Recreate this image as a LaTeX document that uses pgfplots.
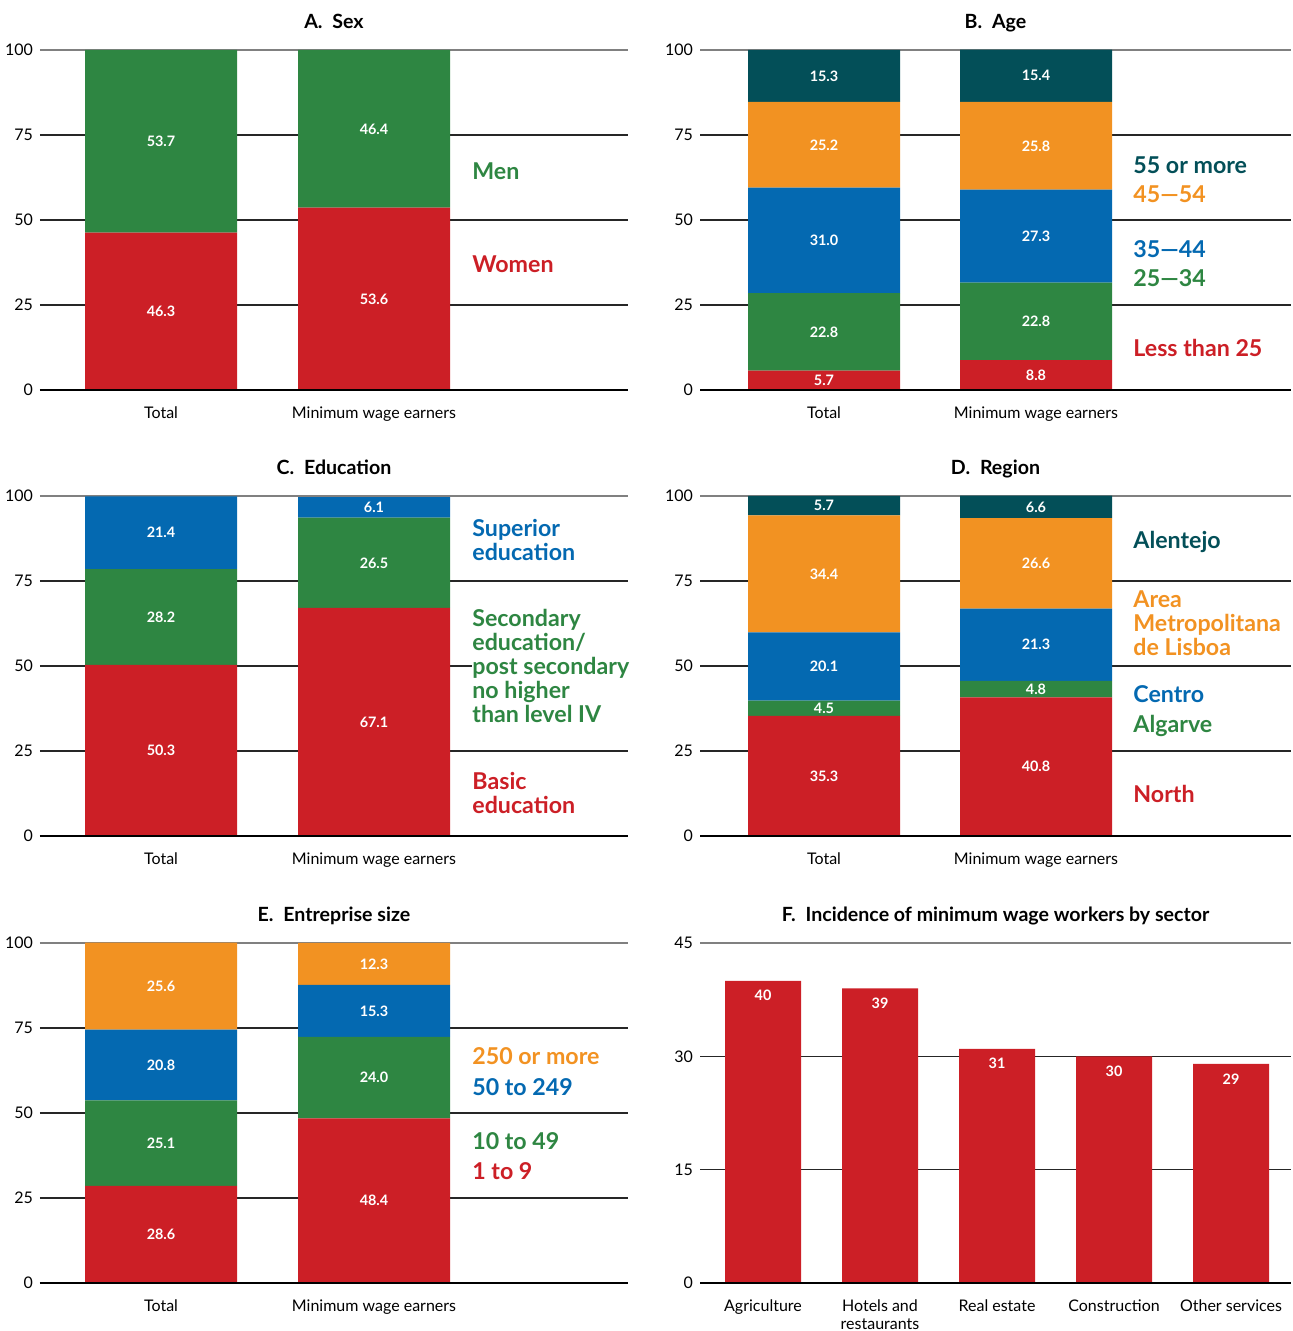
\documentclass[border=0pt]{standalone}
\usepackage{fontspec}
\setmainfont{Lato}
\usepackage{pgfplots}
\pgfplotsset{compat=1.18}
\definecolor{cred}{HTML}{CC1F26}
\definecolor{cgreen}{HTML}{2E8642}
\definecolor{cblue}{HTML}{0469B1}
\definecolor{corange}{HTML}{F29222}
\definecolor{cteal}{HTML}{034F58}
\pgfplotsset{
  base/.style={scale only axis, height=170pt, enlargelimits=false, clip=false,
    axis line style={draw=none}, tick style={draw=none}, major tick length=0pt,
    ymajorgrids, major grid style={line width=0.6pt, black!85},
    ymin=0,
    yticklabel style={font=\fontsize{8}{9.6}\selectfont, xshift=0pt},
    xticklabel style={font=\fontsize{8}{8.8}\selectfont, yshift=-5pt, align=center},
    extra y tick style={grid=major, major grid style={line width=0.9pt, black!50}},
    /pgf/number format/assume math mode=true,
  },
  stackL/.style={base, width=294pt, ybar stacked, bar width=76pt, ymax=100, ytick={0,25,50,75}, extra y ticks={100},
    xtick={0,1}, xticklabels={Total,Minimum wage earners}, xmin=-0.5681, xmax=2.1925},
  stackR/.style={base, width=295.5pt, ybar stacked, bar width=76pt, ymax=100, ytick={0,25,50,75}, extra y ticks={100},
    xtick={0,1}, xticklabels={Total,Minimum wage earners}, xmin=-0.5849, xmax=2.2028},
}
\tikzset{
  vl/.style={font=\fontsize{7.2}{8}\selectfont\bfseries, text=white, inner sep=0pt},
  leg/.style={anchor=north west, inner sep=0pt, font=\fontsize{11.6}{12}\selectfont\bfseries, align=left},
  ttl/.style={anchor=base, inner sep=0pt, font=\fontsize{9.8}{11}\selectfont\bfseries, yshift=10.5pt},
  zl/.style={line width=1.2pt, black},
}
\begin{document}
\begin{tikzpicture}
\path[use as bounding box] (0,0) rectangle (646.5pt,665.5pt);

% ---------- A. Sex ----------
\begin{axis}[stackL, at={(20pt,470.5pt)}, anchor=south west,
  after end axis/.append code={
    \draw[zl] (rel axis cs:0,0) -- (rel axis cs:1,0);
    \node[ttl] at (rel axis cs:0.5,1) {A.\enspace Sex};
    \node[vl] at (axis cs:0,23.15) {46.3};
    \node[vl] at (axis cs:0,73.15) {53.7};
    \node[vl] at (axis cs:1,26.8) {53.6};
    \node[vl] at (axis cs:1,76.8) {46.4};
    \node[leg, text=cgreen] at (axis cs:1.46,66.9) {Men};
    \node[leg, text=cred] at (axis cs:1.46,39.56) {Women};
  }]
\addplot[fill=cred, draw=none] coordinates {(0,46.3) (1,53.6)};
\addplot[fill=cgreen, draw=none] coordinates {(0,53.7) (1,46.4)};
\end{axis}

% ---------- B. Age ----------
\begin{axis}[stackR, at={(350pt,470.5pt)}, anchor=south west,
  after end axis/.append code={
    \draw[zl] (rel axis cs:0,0) -- (rel axis cs:1,0);
    \node[ttl] at (rel axis cs:0.5,1) {B.\enspace Age};
    \node[vl] at (axis cs:0,2.85) {5.7};
    \node[vl] at (axis cs:0,17.1) {22.8};
    \node[vl] at (axis cs:0,44.0) {31.0};
    \node[vl] at (axis cs:0,72.1) {25.2};
    \node[vl] at (axis cs:0,92.35) {15.3};
    \node[vl] at (axis cs:1,4.4) {8.8};
    \node[vl] at (axis cs:1,20.2) {22.8};
    \node[vl] at (axis cs:1,45.25) {27.3};
    \node[vl] at (axis cs:1,71.8) {25.8};
    \node[vl] at (axis cs:1,92.4) {15.4};
    \node[leg, text=cteal] at (axis cs:1.4575,68.68) {55 or more};
    \node[leg, text=corange] at (axis cs:1.4575,60.15) {45—54};
    \node[leg, text=cblue] at (axis cs:1.4575,43.97) {35—44};
    \node[leg, text=cgreen] at (axis cs:1.4575,35.44) {25—34};
    \node[leg, text=cred] at (axis cs:1.4575,15.15) {Less than 25};
  }]
\addplot[fill=cred, draw=none] coordinates {(0,5.7) (1,8.8)};
\addplot[fill=cgreen, draw=none] coordinates {(0,22.8) (1,22.8)};
\addplot[fill=cblue, draw=none] coordinates {(0,31.0) (1,27.3)};
\addplot[fill=corange, draw=none] coordinates {(0,25.2) (1,25.8)};
\addplot[fill=cteal, draw=none] coordinates {(0,15.3) (1,15.4)};
\end{axis}

% ---------- C. Education ----------
\begin{axis}[stackL, at={(20pt,247.5pt)}, anchor=south west,
  after end axis/.append code={
    \draw[zl] (rel axis cs:0,0) -- (rel axis cs:1,0);
    \node[ttl] at (rel axis cs:0.5,1) {C.\enspace Education};
    \node[vl] at (axis cs:0,25.15) {50.3};
    \node[vl] at (axis cs:0,64.4) {28.2};
    \node[vl] at (axis cs:0,89.2) {21.4};
    \node[vl] at (axis cs:1,33.55) {67.1};
    \node[vl] at (axis cs:1,80.35) {26.5};
    \node[vl] at (axis cs:1,96.65) {6.1};
    \node[leg, text=cblue] at (axis cs:1.46,93.38) {Superior\\education};
    \node[leg, text=cgreen, fill=white] at (axis cs:1.46,66.91) {Secondary\\education/\\post secondary\\no higher\\than level IV};
    \node[leg, text=cred] at (axis cs:1.46,18.97) {Basic\\education};
  }]
\addplot[fill=cred, draw=none] coordinates {(0,50.3) (1,67.1)};
\addplot[fill=cgreen, draw=none] coordinates {(0,28.2) (1,26.5)};
\addplot[fill=cblue, draw=none] coordinates {(0,21.4) (1,6.1)};
\end{axis}

% ---------- D. Region ----------
\begin{axis}[stackR, at={(350pt,247.5pt)}, anchor=south west,
  after end axis/.append code={
    \draw[zl] (rel axis cs:0,0) -- (rel axis cs:1,0);
    \node[ttl] at (rel axis cs:0.5,1) {D.\enspace Region};
    \node[vl] at (axis cs:0,17.65) {35.3};
    \node[vl] at (axis cs:0,37.55) {4.5};
    \node[vl] at (axis cs:0,49.85) {20.1};
    \node[vl] at (axis cs:0,77.1) {34.4};
    \node[vl] at (axis cs:0,97.15) {5.7};
    \node[vl] at (axis cs:1,20.4) {40.8};
    \node[vl] at (axis cs:1,43.2) {4.8};
    \node[vl] at (axis cs:1,56.25) {21.3};
    \node[vl] at (axis cs:1,80.2) {26.6};
    \node[vl] at (axis cs:1,96.8) {6.6};
    \node[leg, text=cteal] at (axis cs:1.4575,89.85) {Alentejo};
    \node[leg, text=corange] at (axis cs:1.4575,72.21) {Area\\Metropolitana\\de Lisboa};
    \node[leg, text=cblue] at (axis cs:1.4575,44.26) {Centro};
    \node[leg, text=cgreen] at (axis cs:1.4575,35.74) {Algarve};
    \node[leg, text=cred] at (axis cs:1.4575,15.15) {North};
  }]
\addplot[fill=cred, draw=none] coordinates {(0,35.3) (1,40.8)};
\addplot[fill=cgreen, draw=none] coordinates {(0,4.5) (1,4.8)};
\addplot[fill=cblue, draw=none] coordinates {(0,20.1) (1,21.3)};
\addplot[fill=corange, draw=none] coordinates {(0,34.4) (1,26.6)};
\addplot[fill=cteal, draw=none] coordinates {(0,5.7) (1,6.6)};
\end{axis}

% ---------- E. Entreprise size ----------
\begin{axis}[stackL, at={(20pt,24pt)}, anchor=south west,
  after end axis/.append code={
    \draw[zl] (rel axis cs:0,0) -- (rel axis cs:1,0);
    \node[ttl] at (rel axis cs:0.5,1) {E.\enspace Entreprise size};
    \node[vl] at (axis cs:0,14.3) {28.6};
    \node[vl] at (axis cs:0,41.15) {25.1};
    \node[vl] at (axis cs:0,64.1) {20.8};
    \node[vl] at (axis cs:0,87.3) {25.6};
    \node[vl] at (axis cs:1,24.2) {48.4};
    \node[vl] at (axis cs:1,60.4) {24.0};
    \node[vl] at (axis cs:1,80.05) {15.3};
    \node[vl] at (axis cs:1,93.85) {12.3};
    \node[leg, text=corange] at (axis cs:1.46,69.26) {250 or more};
    \node[leg, text=cblue] at (axis cs:1.46,60.15) {50 to 249};
    \node[leg, text=cgreen] at (axis cs:1.46,44.26) {10 to 49};
    \node[leg, text=cred] at (axis cs:1.46,35.44) {1 to 9};
  }]
\addplot[fill=cred, draw=none] coordinates {(0,28.6) (1,48.4)};
\addplot[fill=cgreen, draw=none] coordinates {(0,25.1) (1,24.0)};
\addplot[fill=cblue, draw=none] coordinates {(0,20.8) (1,15.3)};
\addplot[fill=corange, draw=none] coordinates {(0,25.6) (1,12.3)};
\end{axis}

% ---------- F. Sector ----------
\begin{axis}[base, width=295.5pt, at={(350pt,24pt)}, anchor=south west,
  ybar, bar width=38pt, ymax=45, ytick={0,15,30}, extra y ticks={45},
  xmin=-0.5385, xmax=4.5128, xtick={0,1,2,3,4},
  xticklabels={Agriculture,Hotels and\\restaurants,Real estate,Construction,Other services},
  nodes near coords,
  every node near coord/.append style={font=\fontsize{7.2}{8}\selectfont\bfseries, text=white, anchor=center, yshift=-7.5pt, inner sep=0pt},
  point meta=explicit symbolic,
  after end axis/.append code={
    \draw[zl] (rel axis cs:0,0) -- (rel axis cs:1,0);
    \node[ttl] at (rel axis cs:0.5,1) {F.\enspace Incidence of minimum wage workers by sector};
  }]
\addplot[fill=cred, draw=none] coordinates {(0,40)[40] (1,39)[39] (2,31)[31] (3,30)[30] (4,29)[29]};
\end{axis}
\end{tikzpicture}
\end{document}
